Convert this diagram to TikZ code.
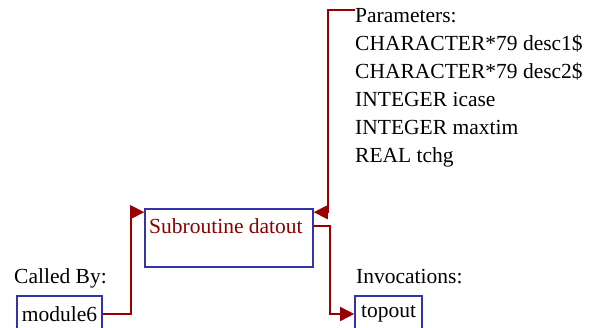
\documentclass[tikz,border=0pt]{standalone}
\usepackage{fontspec}
\setmainfont{Liberation Serif}
\usetikzlibrary{arrows.meta, positioning}
\definecolor{callRed}{HTML}{990000}
\definecolor{boxBlue}{HTML}{3333AA}
\definecolor{nameRed}{HTML}{880000}

\begin{document}
\begin{tikzpicture}[x=1pt, y=1pt,
  font=\fontsize{21.5}{26}\selectfont,
  subbox/.style={draw=boxBlue, line width=1.6pt, minimum width=168pt,
                 minimum height=58pt, inner sep=0pt},
  subtxt/.style={anchor=west, inner sep=0pt, text=nameRed},
  unitbox/.style={draw=boxBlue, line width=1.6pt, minimum height=36pt,
                  inner sep=0pt},
  call/.style={-{Triangle[length=14pt, width=14pt]}, draw=callRed,
               line width=1.6pt},
  caption/.style={anchor=west, inner sep=0pt},
  parm/.style={anchor=base west, inner sep=0pt},
]
\useasboundingbox (0,0) rectangle (589,328);

% --- the subroutine ---
\node[subbox] (sub) at (229,90) {};
\node[subtxt] (subname) at (149,102) {Subroutine datout};

% --- callers and invocations ---
\node[caption] (calledby) at (14,50) {Called By:};
\node[unitbox, minimum width=85pt] (mod) at (59.5,14) {module6};
\node[caption] (invoc) at (356,51) {Invocations:};
\node[unitbox, minimum width=67pt] (top) at (388.5,14) {topout};

% --- parameter list ---
\node[parm] (parhead) at (355,305.5) {Parameters:};
\node[parm] (par1) at (355,277.5) {CHARACTER*79 desc1\$};
\node[parm] (par2) at (355,249.5) {CHARACTER*79 desc2\$};
\node[parm] (par3) at (355,221.5) {INTEGER icase};
\node[parm] (par4) at (355,193.5) {INTEGER maxtim};
\node[parm] (par5) at (355,165.5) {REAL tchg};

% --- connectors ---
\draw[call] (mod.east) -- ++(28,0) |- ([yshift=-4pt]sub.north west);
\draw[call] ([yshift=-2pt]parhead.north west) -- ++(-27,0)
  |- ([yshift=-4pt]sub.north east);
\draw[call] ([yshift=-18pt]sub.north east) -- ++(16,0) |- (top.west);
\end{tikzpicture}
\end{document}
